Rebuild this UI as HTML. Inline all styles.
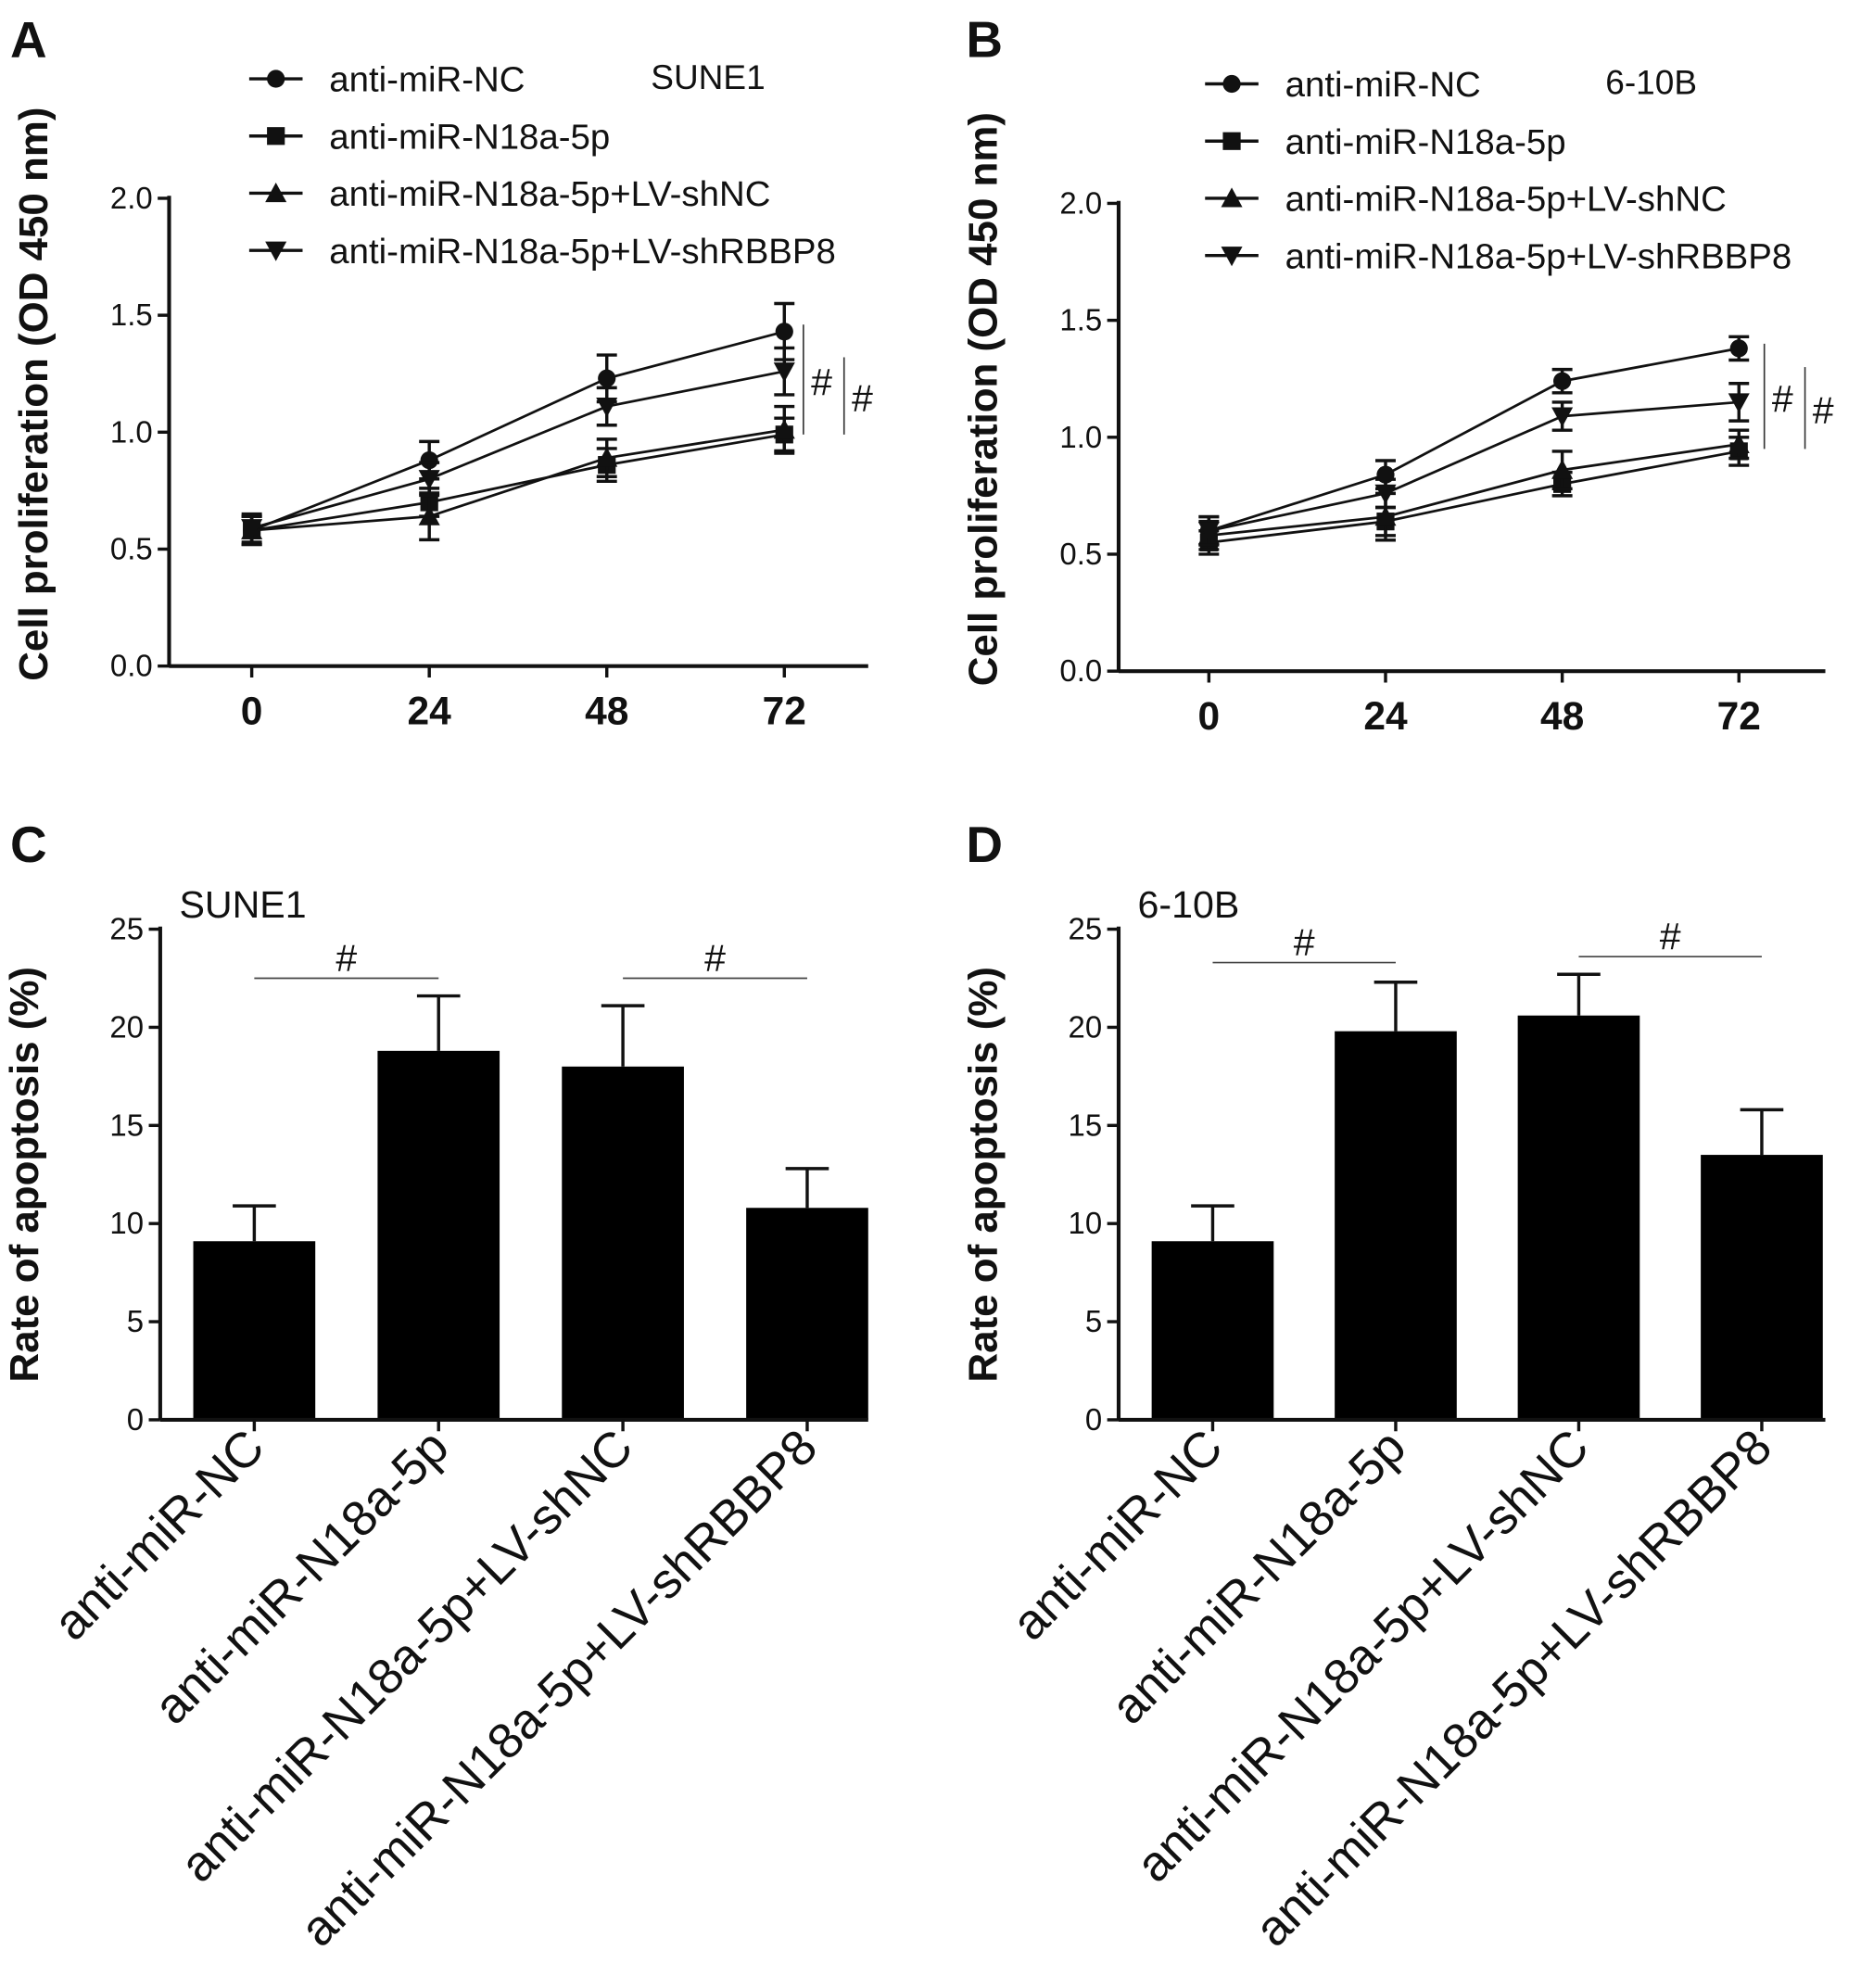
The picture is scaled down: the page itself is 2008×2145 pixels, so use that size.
<!DOCTYPE html>
<html><head><meta charset="utf-8"><style>
html,body{margin:0;padding:0;background:#fff}
svg{display:block}
text{font-family:"Liberation Sans",Arial,sans-serif;fill:#111}
</style></head><body>
<svg id="fig" width="2008" height="2145" viewBox="0 0 1464 1564" xmlns="http://www.w3.org/2000/svg"></svg>
<script>
const timeCats=["0","24","48","72"];
const seriesNames=["anti-miR-NC","anti-miR-N18a-5p","anti-miR-N18a-5p+LV-shNC","anti-miR-N18a-5p+LV-shRBBP8"];
const lineTicks=["0.0","0.5","1.0","1.5","2.0"];
const aNC=[0.58,0.88,1.23,1.43], aNCe=[0.06,0.08,0.10,0.12];
const aN18=[0.58,0.70,0.86,0.99], aN18e=[0.06,0.06,0.07,0.07];
const aShNC=[0.58,0.64,0.89,1.01], aShNCe=[0.06,0.10,0.08,0.10];
const aShR=[0.59,0.80,1.11,1.26], aShRe=[0.06,0.07,0.08,0.10];
const bNC=[0.60,0.84,1.24,1.38], bNCe=[0.06,0.06,0.05,0.05];
const bN18=[0.55,0.64,0.80,0.94], bN18e=[0.05,0.06,0.05,0.06];
const bShNC=[0.58,0.66,0.86,0.97], bShNCe=[0.06,0.10,0.08,0.06];
const bShR=[0.60,0.76,1.09,1.15], bShRe=[0.06,0.06,0.06,0.08];
const barCats=["anti-miR-NC","anti-miR-N18a-5p","anti-miR-N18a-5p+LV-shNC","anti-miR-N18a-5p+LV-shRBBP8"];
const barTicks=["0","5","10","15","20","25"];
const cVals=[9.1,18.8,18.0,10.8], cErr=[1.8,2.8,3.1,2.0];
const dVals=[9.1,19.8,20.6,13.5], dErr=[1.8,2.5,2.1,2.3];

const NS="http://www.w3.org/2000/svg";
const svg=document.getElementById('fig');
function el(tag,attrs,parent,txt){const e=document.createElementNS(NS,tag);for(const k in attrs)e.setAttribute(k,attrs[k]);if(txt!==undefined)e.textContent=txt;(parent||svg).appendChild(e);return e;}

function marker(g,type,x,y,s){
  if(type===0)return el('circle',{cx:x,cy:y,r:s},g);
  if(type===1)return el('rect',{x:x-s,y:y-s,width:2*s,height:2*s},g);
  if(type===2)return el('polygon',{points:`${x},${y-s*1.2} ${x-s*1.2},${y+s} ${x+s*1.2},${y+s}`},g);
  return el('polygon',{points:`${x},${y+s*1.2} ${x-s*1.2},${y-s} ${x+s*1.2},${y-s}`},g);
}

function linePanel(P){
  const g=el('g',{}, svg);
  
  const yS=v=>P.y0-(v/2)*(P.y0-P.y2);
  const xS=i=>P.x0+i*(P.x72-P.x0)/3;
  const t=el('text',{x:P.lx,y:45,'font-size':40,'font-weight':'bold'},g,P.letter);
  
  el('line',{x1:P.ax,y1:P.y2-2,x2:P.ax,y2:P.y0,stroke:'#111','stroke-width':3},g);
  el('line',{x1:P.ax,y1:P.y0,x2:P.xend,y2:P.y0,stroke:'#111','stroke-width':3},g);
  lineTicks.forEach(tk=>{const y=yS(+tk);
    el('line',{x1:P.ax-9,y1:y,x2:P.ax,y2:y,stroke:'#111','stroke-width':2.5},g);
    const tt=el('text',{x:P.ax-13,y:y+8,'font-size':24,'text-anchor':'end',fill:'#222'},g,tk);
    });
  timeCats.forEach((c,i)=>{const x=xS(i);
    el('line',{x1:x,y1:P.y0,x2:x,y2:P.y0+9,stroke:'#111','stroke-width':2.5},g);
    const tt=el('text',{x:x,y:P.y0+46,'font-size':31,'text-anchor':'middle','font-weight':'bold'},g,c);
    });
  const yt=el('text',{transform:`translate(${P.ax-96},${(P.y0+P.y2)/2-30}) rotate(-90)`,'font-size':32,'text-anchor':'middle','font-weight':'bold'},g,'Cell proliferation (OD 450 nm)');
  
  P.series.forEach((s,si)=>{
    const sg=el('g',{},g);
    
    el('polyline',{points:s.v.map((v,i)=>xS(i)+','+yS(v)).join(' '),fill:'none',stroke:'#111','stroke-width':2},sg);
    s.v.forEach((v,i)=>{const x=xS(i),y1=yS(v+s.e[i]),y2=yS(v-s.e[i]);
      el('line',{x1:x,y1:y1,x2:x,y2:y2,stroke:'#111','stroke-width':2.5},sg);
      el('line',{x1:x-8,y1:y1,x2:x+8,y2:y1,stroke:'#111','stroke-width':2.5},sg);
      el('line',{x1:x-8,y1:y2,x2:x+8,y2:y2,stroke:'#111','stroke-width':2.5},sg);
      const m=marker(sg,si,x,yS(v),7);m.setAttribute('fill','#111');
      });
  });
  seriesNames.forEach((n,i)=>{const y=P.legY+i*45;
    const lg=el('g',{},g);
    el('line',{x1:P.legX,y1:y,x2:P.legX+42,y2:y,stroke:'#111','stroke-width':2.5},lg);
    marker(lg,i,P.legX+21,y,7).setAttribute('fill','#111');
    el('text',{x:P.legX+63,y:y+10,'font-size':28,fill:'#333'},lg,n);});
  const cl=el('text',{x:P.cellX,y:P.legY+8,'font-size':27,fill:'#333'},g,P.cell);
  
  const xb=xS(3)+P.sigOff;
  el('line',{x1:xb,y1:yS(P.sig1[0]),x2:xb,y2:yS(P.sig1[1]),stroke:'#333','stroke-width':1.2},g);
  el('text',{x:xb+6,y:(yS(P.sig1[0])+yS(P.sig1[1]))/2+12,'font-size':30,fill:'#222'},g,'#');
  el('line',{x1:xb+32,y1:yS(P.sig2[0]),x2:xb+32,y2:yS(P.sig2[1]),stroke:'#333','stroke-width':1.2},g);
  el('text',{x:xb+38,y:(yS(P.sig2[0])+yS(P.sig2[1]))/2+12,'font-size':30,fill:'#222'},g,'#');
}

function barPanel(P){
  const g=el('g',{},svg);
  
  const yS=v=>P.y0-(v/25)*(P.y0-P.y25);
  const xS=i=>P.c0+i*(P.c3-P.c0)/3;
  const t=el('text',{x:P.lx,y:678,'font-size':40,'font-weight':'bold'},g,P.letter);
  
  const cl=el('text',{x:P.ax+15,y:722,'font-size':30,fill:'#333'},g,P.cell);
  
  P.vals.forEach((v,i)=>{const x=xS(i),top=yS(v),et=yS(v+P.err[i]);
    el('line',{x1:x,y1:et,x2:x,y2:top,stroke:'#111','stroke-width':2.5},g);
    el('line',{x1:x-17,y1:et,x2:x+17,y2:et,stroke:'#111','stroke-width':2.5},g);
    const b=el('rect',{x:x-48,y:top,width:96,height:P.y0-top,fill:'#000'},g);
    });
  el('line',{x1:P.ax,y1:P.y25-2,x2:P.ax,y2:P.y0,stroke:'#111','stroke-width':3},g);
  el('line',{x1:P.ax,y1:P.y0,x2:P.xend,y2:P.y0,stroke:'#111','stroke-width':3},g);
  barTicks.forEach(tk=>{const y=yS(+tk);
    el('line',{x1:P.ax-9,y1:y,x2:P.ax,y2:y,stroke:'#111','stroke-width':2.5},g);
    const tt=el('text',{x:P.ax-13,y:y+8,'font-size':24,'text-anchor':'end',fill:'#222'},g,tk);
    });
  barCats.forEach((c,i)=>{const x=xS(i);
    el('line',{x1:x,y1:P.y0,x2:x,y2:P.y0+9,stroke:'#111','stroke-width':2.5},g);
    const tt=el('text',{transform:`translate(${x+10},${P.y0+24}) rotate(-45)`,'font-size':39,'text-anchor':'end'},g,c);
    });
  const yt=el('text',{transform:`translate(${P.ax-96},${(P.y0+P.y25)/2}) rotate(-90)`,'font-size':32,'text-anchor':'middle','font-weight':'bold'},g,'Rate of apoptosis (%)');
  
  P.sigs.forEach(s=>{const y=yS(s[2]);
    el('line',{x1:xS(s[0]),y1:y,x2:xS(s[1]),y2:y,stroke:'#444','stroke-width':1.2},g);
    el('text',{x:(xS(s[0])+xS(s[1]))/2,y:y-6,'font-size':30,'text-anchor':'middle',fill:'#222'},g,'#');});
}

linePanel({name:'panel-a',letter:'A',lx:8,ax:133,y0:524,y2:156,x0:198,x72:617,xend:683,legX:196,legY:62,cellX:512,cell:'SUNE1',
  series:[{v:aNC,e:aNCe},{v:aN18,e:aN18e},{v:aShNC,e:aShNCe},{v:aShR,e:aShRe}],sigOff:15,sig1:[1.46,0.99],sig2:[1.32,0.99]});
linePanel({name:'panel-b',letter:'B',lx:760,ax:880,y0:528,y2:160,x0:951,x72:1368,xend:1436,legX:948,legY:66,cellX:1263,cell:'6-10B',
  series:[{v:bNC,e:bNCe},{v:bN18,e:bN18e},{v:bShNC,e:bShNCe},{v:bShR,e:bShRe}],sigOff:20,sig1:[1.40,0.95],sig2:[1.30,0.95]});
barPanel({name:'panel-c',letter:'C',lx:8,ax:126,y0:1117,y25:731,c0:200,c3:635,xend:683,cell:'SUNE1',vals:cVals,err:cErr,sigs:[[0,1,22.5],[2,3,22.5]]});
barPanel({name:'panel-d',letter:'D',lx:760,ax:880,y0:1117,y25:731,c0:954,c3:1386,xend:1436,cell:'6-10B',vals:dVals,err:dErr,sigs:[[0,1,23.3],[2,3,23.6]]});
</script>
</body></html>
